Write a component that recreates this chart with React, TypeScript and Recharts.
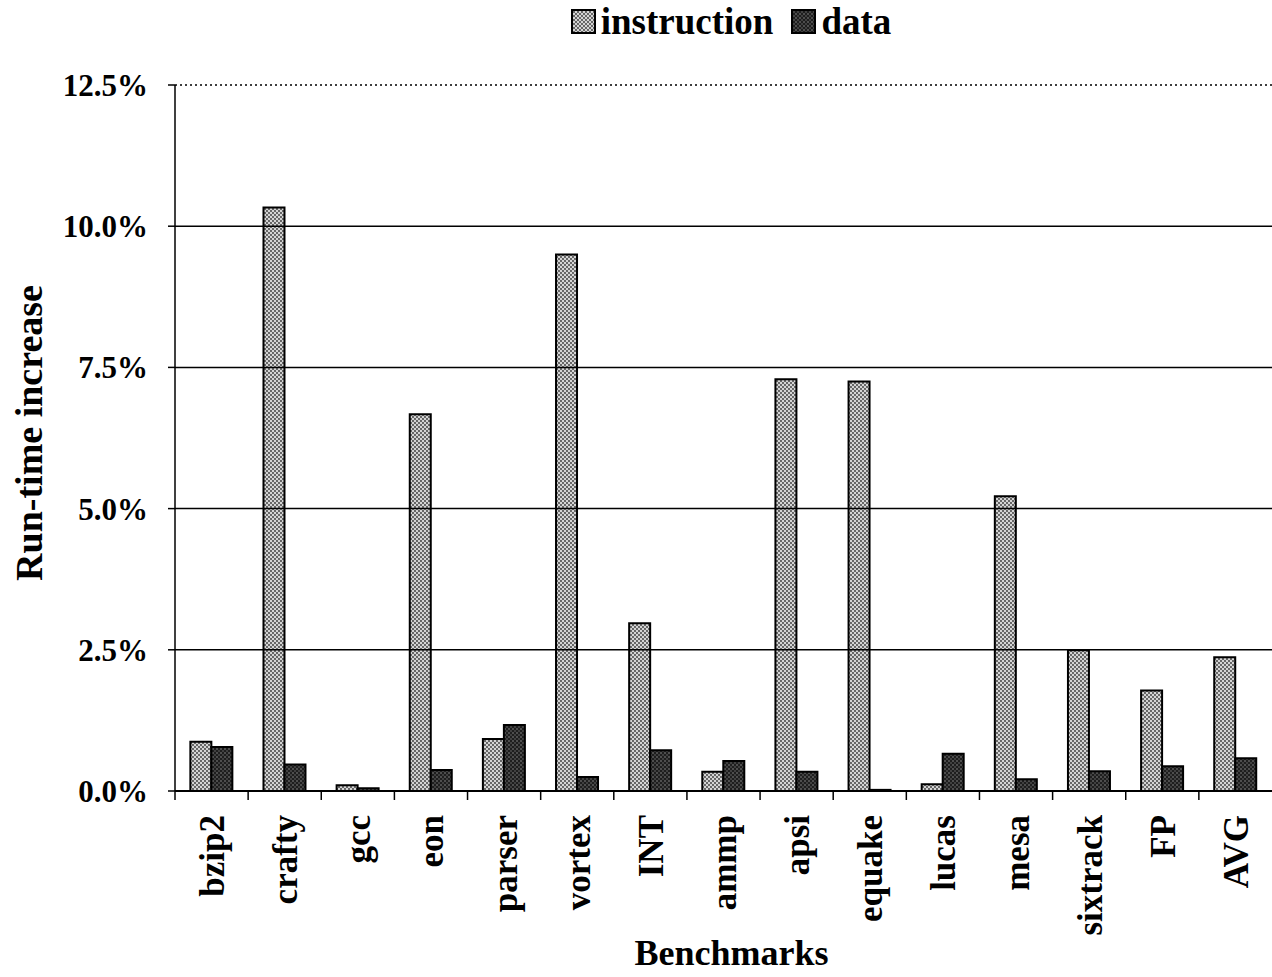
import { BarChart, Bar, XAxis, YAxis, ReferenceLine, Legend } from "recharts";

const benchmarks = [
  "bzip2", "crafty", "gcc", "eon", "parser", "vortex", "INT",
  "ammp", "apsi", "equake", "lucas", "mesa", "sixtrack", "FP", "AVG",
];
const instructionValues = [0.87, 10.33, 0.1, 6.67, 0.92, 9.5, 2.97, 0.34, 7.29, 7.25, 0.12, 5.22, 2.49, 1.78, 2.37];
const dataValues = [0.78, 0.47, 0.05, 0.37, 1.17, 0.25, 0.72, 0.53, 0.34, 0.02, 0.66, 0.21, 0.35, 0.44, 0.58];
const yTicks = [0, 2.5, 5, 7.5, 10, 12.5];
const gridLines = [2.5, 5, 7.5, 10];

const rows = benchmarks.map((name, i) => ({
  name,
  instruction: instructionValues[i],
  data: dataValues[i],
}));

const FONT = '"Liberation Serif", "Times New Roman", serif';

const BenchTick = ({ x, y, payload }: any) => {
  const half = payload?.offset ?? 36.5;
  return (
    <g>
      <line x1={x - half} x2={x - half} y1={y} y2={y + 9} stroke="#000" strokeWidth={1.5} />
      <text
        transform={`translate(${x + 1},${y + 24}) rotate(-90)`}
        textAnchor="end"
        dominantBaseline="central"
        fontFamily={FONT}
        fontWeight="bold"
        fontSize={35}
        fill="#000"
      >
        {payload.value}
      </text>
    </g>
  );
};

const Swatch = ({ id }: { id: string }) => (
  <svg width={25} height={25} style={{ marginRight: 5 }}>
    <rect x={1} y={1} width={23} height={23} fill={`url(#${id})`} stroke="#000" strokeWidth={2} />
  </svg>
);

const LegendContent = () => (
  <div
    style={{
      display: "flex",
      justifyContent: "center",
      alignItems: "center",
      fontFamily: FONT,
      fontWeight: "bold",
      fontSize: 37,
      color: "#000",
      paddingLeft: 190,
    }}
  >
    <Swatch id="instrPat" />
    <span style={{ marginRight: 18 }}>instruction</span>
    <Swatch id="dataPat" />
    <span>data</span>
  </div>
);

export default function App() {
  return (
    <div style={{ position: "absolute", left: 0, top: 0, background: "#fff" }}>
      <BarChart
        width={1272}
        height={977}
        data={rows}
        margin={{ top: 85, right: 0, left: 0, bottom: 0 }}
        barCategoryGap="21%"
        barGap={0}
      >
        <defs>
          <pattern id="instrPat" width={4} height={4} patternUnits="userSpaceOnUse">
            <rect width={4} height={4} fill="#d4d4d4" />
            <circle cx={1} cy={1} r={0.9} fill="#333" />
            <circle cx={3} cy={3} r={0.9} fill="#333" />
          </pattern>
          <pattern id="dataPat" width={4} height={4} patternUnits="userSpaceOnUse">
            <rect width={4} height={4} fill="#1e1e1e" />
            <circle cx={1} cy={1} r={0.8} fill="#8a8a8a" />
            <circle cx={3} cy={3} r={0.8} fill="#6a6a6a" />
          </pattern>
        </defs>
        <Legend
          layout="horizontal"
          verticalAlign="middle"
          align="center"
          content={<LegendContent />}
          wrapperStyle={{ top: 0, left: 0, width: 1272 }}
        />
        {gridLines.map((v) => (
          <ReferenceLine key={v} y={v} stroke="#000" strokeWidth={1.5} />
        ))}
        <ReferenceLine y={12.5} stroke="#000" strokeWidth={1.5} strokeDasharray="2 3" />
        <XAxis
          dataKey="name"
          height={186}
          interval={0}
          tickLine={false}
          tickSize={0}
          tickMargin={0}
          axisLine={{ stroke: "#000", strokeWidth: 2 }}
          tick={<BenchTick />}
          label={{
            value: "Benchmarks",
            position: "insideBottom",
            offset: 12,
            dx: 8,
            fontFamily: FONT,
            fontWeight: "bold",
            fontSize: 36,
            fill: "#000",
          }}
        />
        <YAxis
          width={175}
          domain={[0, 12.5]}
          ticks={yTicks}
          interval={0}
          tickFormatter={(v: number) => `${v.toFixed(1)}%`}
          tickSize={7}
          tickMargin={20}
          tickLine={{ stroke: "#000", strokeWidth: 1.5 }}
          axisLine={{ stroke: "#000", strokeWidth: 1.5 }}
          tick={{ fontFamily: FONT, fontWeight: "bold", fontSize: 31, fill: "#000" }}
          label={{
            content: ({ viewBox }: any) => (
              <text
                transform={`translate(${viewBox.x + 29},${viewBox.y + viewBox.height / 2 - 5}) rotate(-90)`}
                textAnchor="middle"
                dominantBaseline="central"
                fontFamily={FONT}
                fontWeight="bold"
                fontSize={38}
                fill="#000"
              >
                Run-time increase
              </text>
            ),
          }}
        />
        <Bar dataKey="instruction" fill="url(#instrPat)" stroke="#000" strokeWidth={2} isAnimationActive={false} />
        <Bar dataKey="data" fill="url(#dataPat)" stroke="#000" strokeWidth={2} isAnimationActive={false} />
      </BarChart>
    </div>
  );
}
